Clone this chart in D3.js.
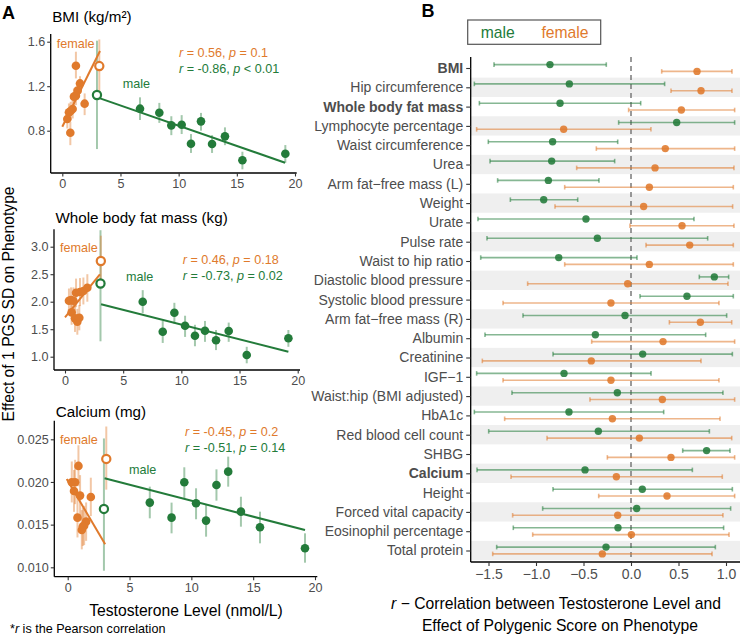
<!DOCTYPE html>
<html><head><meta charset="utf-8">
<script src="https://cdn.jsdelivr.net/npm/d3@7"></script>
<style>
html,body{margin:0;padding:0;background:#fff;}
svg{display:block;font-family:"Liberation Sans",Arial,Helvetica,sans-serif;}
</style></head>
<body><svg id="c" width="740" height="639"></svg>
<script>
// ---------------- DATA ----------------
// Panel A: [testosterone, effect, lower, upper]
const bmiFemale = [[1.17,1.384,1.27,1.51],[1.52,1.225,1.15,1.29],[1.32,1.16,1.075,1.225],[1.17,1.115,1.03,1.195],[1.00,1.106,1.016,1.18],[1.92,1.043,0.94,1.135],[0.89,0.995,0.91,1.075],[0.72,0.977,0.896,1.06],[0.57,0.965,0.88,1.045],[0.43,0.905,0.82,0.97],[0.69,0.782,0.67,0.88]];
const bmiMale = [[6.68,0.998,0.896,1.10],[8.34,0.962,0.87,1.05],[9.37,0.848,0.76,0.93],[10.26,0.854,0.77,0.94],[11.06,0.683,0.60,0.77],[11.92,0.884,0.80,0.96],[12.87,0.680,0.60,0.76],[13.98,0.749,0.67,0.83],[15.48,0.534,0.453,0.611],[19.17,0.593,0.512,0.671]];
const bmiFemaleOpen = [3.18,1.381,1.14,1.62];
const bmiMaleOpen = [2.98,1.121,0.635,1.609];
const bmiFemaleFit = [[0.0,0.836],[3.24,1.516]];
const bmiMaleFit = [[3.0,1.10],[19.15,0.512]];
const bmiYTicks = [0.8,1.2,1.6];

const fatFemale = [[0.34,2.018,1.80,2.24],[0.52,2.03,1.80,2.26],[0.72,2.018,1.78,2.26],[0.57,1.806,1.58,2.03],[0.95,2.164,1.90,2.42],[1.29,2.176,1.92,2.43],[1.58,2.194,1.95,2.44],[1.92,2.255,2.00,2.50],[0.86,1.697,1.45,1.94],[1.06,1.636,1.40,1.87],[1.23,1.709,1.48,1.94]];
const fatMale = [[6.68,2.00,1.79,2.21],[8.40,1.455,1.25,1.65],[9.40,1.80,1.60,1.98],[10.32,1.564,1.36,1.745],[11.17,1.38,1.19,1.58],[12.03,1.473,1.27,1.65],[12.98,1.30,1.12,1.485],[14.07,1.467,1.27,1.62],[15.62,1.03,0.88,1.18],[19.2,1.335,1.18,1.485]];
const fatFemaleOpen = [3.08,2.74,2.30,3.20];
const fatMaleOpen = [3.05,2.33,1.28,3.30];
const fatFemaleFit = [[0.0,1.715],[3.0,2.497]];
const fatMaleFit = [[3.1,1.952],[19.2,1.09]];
const fatYTicks = [1.0,1.5,2.0,2.5,3.0];

const caFemale = [[0.87,0.02188,0.0195,0.0243],[0.33,0.01996,0.0176,0.0224],[0.60,0.01996,0.0174,0.0226],[0.51,0.01895,0.0165,0.0214],[1.00,0.0184,0.0160,0.0208],[1.87,0.01824,0.0160,0.0205],[0.79,0.01582,0.0135,0.0182],[1.49,0.01535,0.0131,0.0176],[1.33,0.01488,0.0126,0.0172],[1.14,0.01438,0.0121,0.0167],[1.22,0.01477,0.0125,0.0170]];
const caMale = [[6.64,0.01758,0.01574,0.01945],[8.40,0.01582,0.01398,0.01758],[9.43,0.01996,0.01809,0.02172],[10.38,0.0175,0.01563,0.01926],[11.19,0.01547,0.01359,0.0173],[12.03,0.01965,0.01781,0.02148],[12.98,0.02121,0.01945,0.02297],[14.01,0.01652,0.01476,0.01827],[15.55,0.01469,0.01281,0.01652],[19.19,0.01223,0.01054,0.01398]];
const caFemaleOpen = [3.12,0.0227,0.0191,0.0265];
const caMaleOpen = [2.93,0.01684,0.0096,0.0251];
const caFemaleFit = [[-0.08,0.02035],[3.03,0.0127]];
const caMaleFit = [[2.98,0.02043],[19.19,0.01437]];
const caYTicks = [0.010,0.015,0.020,0.025];

const testoTicks = [0,5,10,15,20];
const statsFemale = [["0.56","= 0.1"],["0.46","= 0.18"],["-0.45","= 0.2"]];
const statsMale = [["-0.86","< 0.01"],["-0.73","= 0.02"],["-0.51","= 0.14"]];

// Panel B
const traits = ["BMI","Hip circumference","Whole body fat mass","Lymphocyte percentage","Waist circumference","Urea","Arm fat\u2212free mass (L)","Weight","Urate","Pulse rate","Waist to hip ratio","Diastolic blood pressure","Systolic blood pressure","Arm fat\u2212free mass (R)","Albumin","Creatinine","IGF\u22121","Waist:hip (BMI adjusted)","HbA1c","Red blood cell count","SHBG","Calcium","Height","Forced vital capacity","Eosinophil percentage","Total protein"];
const boldTraits = ["BMI","Whole body fat mass","Calcium"];
const maleR  = [-0.853,-0.649,-0.747,0.481,-0.825,-0.835,-0.870,-0.919,-0.474,-0.354,-0.761,0.877,0.589,-0.063,-0.375,0.123,-0.705,-0.144,-0.653,-0.344,0.796,-0.484,0.119,0.060,-0.137,-0.263];
const maleLo = [-1.442,-1.649,-1.596,-0.130,-1.502,-1.484,-1.404,-1.270,-1.611,-1.516,-1.582,0.719,0.095,-1.137,-1.537,-0.821,-1.625,-1.253,-1.649,-1.498,0.544,-1.621,-0.821,-0.930,-1.239,-1.414];
const maleHi = [-0.260,0.354,0.102,1.091,-0.140,-0.172,-0.337,-0.561,0.663,0.807,0.063,1.028,1.077,1.007,0.786,1.067,0.211,0.968,0.344,0.825,1.042,0.646,1.067,1.049,0.975,0.888];
const femaleR  = [0.695,0.737,0.530,-0.709,0.361,0.253,0.193,0.133,0.537,0.618,0.193,-0.035,-0.211,0.730,0.337,-0.418,-0.211,0.330,-0.196,0.088,0.421,-0.154,0.379,-0.140,0.004,-0.302];
const femaleLo = [0.323,0.421,-0.025,-1.625,-0.365,-0.572,-0.698,-0.800,-0.011,0.158,-0.698,-1.088,-1.347,0.404,-0.414,-1.565,-1.347,-0.432,-1.330,-0.884,-0.249,-1.263,-0.340,-1.246,-1.035,-1.456];
const femaleHi = [1.063,1.063,1.091,0.210,1.091,1.084,1.077,1.070,1.084,1.077,1.077,1.021,0.926,1.060,1.091,0.737,0.926,1.091,0.937,1.060,1.091,0.961,1.091,0.968,1.032,0.853];
const rTicks = [-1.5,-1.0,-0.5,0.0,0.5,1.0];

// ---------------- STYLE ----------------
const GREEN = "#237b3a", ORANGE = "#e07a2c";
const TICKCOL = "#4d4d4d";
const svg = d3.select("#c");

function styleAxis(g, fs){
  g.select(".domain").attr("stroke","#000").attr("stroke-width",1.3);
  g.selectAll(".tick line").attr("stroke","#333").attr("stroke-width",1.1);
  g.selectAll(".tick text").attr("fill",TICKCOL).style("font-size",fs+"px").style("font-family","'Liberation Sans',Arial,sans-serif");
}

// ---------------- PANEL A ----------------
const subplots = [
  {title:"BMI (kg/m\u00b2)", titleY:22, L:50.7, R:296.7, T:34, B:173, xr:[62.3,295], yd:[0.8,1.6], yr:[130.7,41.7], yt:bmiYTicks, fmt:d3.format(".1f"),
   fem:bmiFemale, mal:bmiMale, fo:bmiFemaleOpen, mo:bmiMaleOpen, ff:bmiFemaleFit, mf:bmiMaleFit,
   femLab:[56.7,47.5], malLab:[122.7,87.5], stat:[179,57,73]},
  {title:"Whole body fat mass (kg)", titleY:222.5, L:54, R:300, T:229.3, B:370, xr:[65,297.7], yd:[1,3], yr:[356.7,246.7], yt:fatYTicks, fmt:d3.format(".1f"),
   fem:fatFemale, mal:fatMale, fo:fatFemaleOpen, mo:fatMaleOpen, ff:fatFemaleFit, mf:fatMaleFit,
   femLab:[60,251.5], malLab:[126,281], stat:[182.7,264.3,280.3]},
  {title:"Calcium (mg)", titleY:417, L:54.3, R:317.3, T:420.7, B:576.7, xr:[67.7,315], yd:[0.010,0.025], yr:[567.3,439.3], yt:caYTicks, fmt:d3.format(".3f"),
   fem:caFemale, mal:caMale, fo:caFemaleOpen, mo:caMaleOpen, ff:caFemaleFit, mf:caMaleFit,
   femLab:[60,444.3], malLab:[129,474.3], stat:[185,436,452]}
];

subplots.forEach((s,i)=>{
  const x = d3.scaleLinear().domain([0,20]).range(s.xr);
  const y = d3.scaleLinear().domain(s.yd).range(s.yr);
  const g = svg.append("g");
  g.append("text").attr("x",s.L+1.5).attr("y",s.titleY).text(s.title).style("font-size","15.2px").attr("fill","#000");
  const xa = g.append("g").attr("transform",`translate(0,${s.B})`)
    .call(d3.axisBottom(x).tickValues(testoTicks).tickSize(3.5).tickPadding(2.5).tickSizeOuter(0));
  xa.select(".domain").attr("d",`M${s.L},0H${s.R}`);
  styleAxis(xa,12.6);
  const ya = g.append("g").attr("transform",`translate(${s.L},0)`)
    .call(d3.axisLeft(y).tickValues(s.yt).tickFormat(s.fmt).tickSize(3.5).tickPadding(2).tickSizeOuter(0));
  ya.select(".domain").attr("d",`M0,${s.T}V${s.B}`);
  styleAxis(ya,12.6);
  const eb = (arr,col)=>g.append("g").selectAll("line").data(arr).join("line")
    .attr("x1",d=>x(d[0])).attr("x2",d=>x(d[0])).attr("y1",d=>y(d[2])).attr("y2",d=>y(d[3]))
    .attr("stroke",col).attr("stroke-opacity",0.42).attr("stroke-width",2);
  eb([s.mo],GREEN); eb(s.mal,GREEN); eb([s.fo],ORANGE); eb(s.fem,ORANGE);
  const ln = d3.line().x(d=>x(d[0])).y(d=>y(d[1]));
  g.append("path").attr("d",ln(s.mf)).attr("stroke",GREEN).attr("stroke-width",2).attr("fill","none");
  g.append("path").attr("d",ln(s.ff)).attr("stroke",ORANGE).attr("stroke-width",2).attr("fill","none");
  g.append("g").selectAll("circle").data(s.mal).join("circle")
    .attr("cx",d=>x(d[0])).attr("cy",d=>y(d[1])).attr("r",4.3).attr("fill",GREEN);
  g.append("g").selectAll("circle").data(s.fem).join("circle")
    .attr("cx",d=>x(d[0])).attr("cy",d=>y(d[1])).attr("r",4.3).attr("fill",ORANGE);
  [[s.mo,GREEN],[s.fo,ORANGE]].forEach(([d,c])=>{
    g.append("circle").attr("cx",x(d[0])).attr("cy",y(d[1])).attr("r",4.1)
      .attr("fill","#fff").attr("stroke",c).attr("stroke-width",2.2);
  });
  g.append("text").attr("x",s.femLab[0]).attr("y",s.femLab[1]).text("female").attr("fill",ORANGE).style("font-size","12.6px");
  g.append("text").attr("x",s.malLab[0]).attr("y",s.malLab[1]).text("male").attr("fill",GREEN).style("font-size","12.6px");
  const stat = (yy,col,st)=>{
    const t = g.append("text").attr("x",s.stat[0]).attr("y",yy).attr("fill",col).style("font-size","12.6px");
    t.append("tspan").text("r").style("font-style","italic");
    t.append("tspan").text(" = "+st[0]+", ");
    t.append("tspan").text("p").style("font-style","italic");
    t.append("tspan").text(" "+st[1]);
  };
  stat(s.stat[1],ORANGE,statsFemale[i]);
  stat(s.stat[2],GREEN,statsMale[i]);
});

svg.append("text").attr("x",2).attr("y",18.5).text("A").style("font-size","18px").style("font-weight","bold");
svg.append("text").attr("transform","translate(14,304) rotate(-90)").attr("text-anchor","middle")
  .text("Effect of 1 PGS SD on Phenotype").style("font-size","15.7px");
svg.append("text").attr("x",186).attr("y",615.5).attr("text-anchor","middle")
  .text("Testosterone Level (nmol/L)").style("font-size","15.7px");
const fn = svg.append("text").attr("x",10).attr("y",632.5).style("font-size","12.6px");
fn.append("tspan").text("*");
fn.append("tspan").text("r").style("font-style","italic");
fn.append("tspan").text(" is the Pearson correlation");

// ---------------- PANEL B ----------------
const BL = 470.7, BR = 740, BT = 57, BB = 562;
const xb = d3.scaleLinear().domain([-1.5,1.0]).range([488.5,726]);
const yb = d3.scalePoint().domain(traits).range([68,550.5]);
const step = yb.step();
const gb = svg.append("g");
gb.append("g").selectAll("rect").data(traits.filter((d,i)=>i%2===1)).join("rect")
  .attr("x",BL).attr("width",BR-BL).attr("y",d=>yb(d)-step/2).attr("height",step).attr("fill","#efefef");
gb.append("line").attr("x1",xb(0)).attr("x2",xb(0)).attr("y1",BT).attr("y2",BB)
  .attr("stroke","#7a7a7a").attr("stroke-width",1.5).attr("stroke-dasharray","5,4");
function drawB(rv,lo,hi,col,off){
  const g = gb.append("g");
  traits.forEach((t,i)=>{
    const cy = yb(t)+off;
    const gg = g.append("g").attr("stroke",col).attr("stroke-opacity",0.55).attr("stroke-width",1.6);
    gg.append("line").attr("x1",xb(lo[i])).attr("x2",xb(hi[i])).attr("y1",cy).attr("y2",cy);
    gg.append("line").attr("x1",xb(lo[i])).attr("x2",xb(lo[i])).attr("y1",cy-2.3).attr("y2",cy+2.3);
    gg.append("line").attr("x1",xb(hi[i])).attr("x2",xb(hi[i])).attr("y1",cy-2.3).attr("y2",cy+2.3);
  });
  g.selectAll("circle").data(traits).join("circle")
    .attr("cx",(d,i)=>xb(rv[i])).attr("cy",d=>yb(d)+off).attr("r",3.7).attr("fill",col).attr("fill-opacity",0.88);
}
drawB(maleR,maleLo,maleHi,GREEN,-3.4);
drawB(femaleR,femaleLo,femaleHi,ORANGE,3.4);
const xba = gb.append("g").attr("transform",`translate(0,${BB})`)
  .call(d3.axisBottom(xb).tickValues(rTicks).tickFormat(d=>d3.format(".1f")(d).replace("-","\u2212")).tickSize(4).tickPadding(3.5).tickSizeOuter(0));
xba.select(".domain").attr("d",`M${BL},0H${BR}`);
styleAxis(xba,14);
const yba = gb.append("g").attr("transform",`translate(${BL},0)`)
  .call(d3.axisLeft(yb).tickSize(4.5).tickPadding(3).tickSizeOuter(0));
yba.select(".domain").attr("d",`M0,${BT}V${BB}`);
styleAxis(yba,14);
yba.selectAll(".tick text").style("font-weight",d=>boldTraits.includes(d)?"bold":"normal");

gb.append("rect").attr("x",467.7).attr("y",20).attr("width",133).attr("height",24.3)
  .attr("fill","#fff").attr("stroke","#555").attr("stroke-width",1.2);
gb.append("text").attr("x",497.7).attr("y",37.5).attr("text-anchor","middle").text("male").attr("fill",GREEN).style("font-size","15.7px");
gb.append("text").attr("x",565).attr("y",37.5).attr("text-anchor","middle").text("female").attr("fill",ORANGE).style("font-size","15.7px");
svg.append("text").attr("x",421.5).attr("y",17).text("B").style("font-size","18px").style("font-weight","bold");
const xt = svg.append("text").attr("x",556).attr("y",608.5).attr("text-anchor","middle").style("font-size","15.7px");
xt.append("tspan").text("r").style("font-style","italic");
xt.append("tspan").text(" \u2212 Correlation between Testosterone Level and");
svg.append("text").attr("x",560).attr("y",631).attr("text-anchor","middle").style("font-size","15.7px")
  .text("Effect of Polygenic Score on Phenotype");
</script>
</body></html>
